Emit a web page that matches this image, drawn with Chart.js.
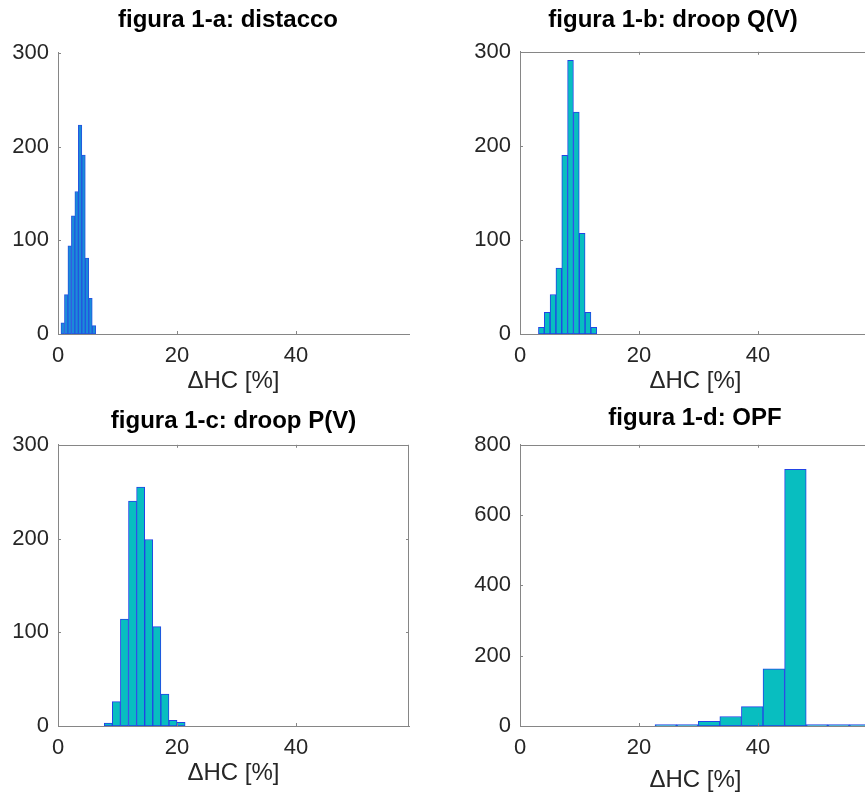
<!DOCTYPE html>
<html>
<head>
<meta charset="utf-8">
<script src="https://cdn.jsdelivr.net/npm/chart.js@4/dist/chart.umd.min.js"></script>
<style>
html,body{margin:0;padding:0;background:#fff;width:865px;height:796px;overflow:hidden;position:relative}
canvas{position:absolute}
</style>
</head>
<body>
<canvas id="ca" width="456" height="396" style="left:0;top:0"></canvas>
<canvas id="cb" width="486" height="396" style="left:430px;top:0"></canvas>
<canvas id="cc" width="467" height="393" style="left:0;top:395px"></canvas>
<canvas id="cd" width="530" height="400" style="left:430px;top:395px"></canvas>
<script>
// ---- data ----
const xTickValues = [0, 20, 40];
const axisTitle = 'ΔHC [%]';

const titleA = 'figura 1-a: distacco';
const binsA = [0.792, 1.376, 1.960, 2.544, 3.128, 3.712, 4.296, 4.880, 5.464, 6.048];
const countsA = [12, 42, 94, 126, 152, 223, 191, 81, 38, 9];

const titleB = 'figura 1-b: droop Q(V)';
const binsB = [3.59, 4.57, 5.55, 6.53, 7.51, 8.49, 9.47, 10.45, 11.43, 12.41];
const countsB = [7, 23, 42, 70, 190, 291, 236, 107, 23, 7];

const titleC = 'figura 1-c: droop P(V)';
const binsC = [8.45, 9.81, 11.17, 12.53, 13.89, 15.25, 16.61, 17.97, 19.33, 20.69];
const countsC = [3, 26, 114, 240, 255, 199, 106, 34, 6, 4];

const titleD = 'figura 1-d: OPF';
const binsD = [24.515, 28.145, 31.775, 35.405, 39.035, 42.665, 46.295, 49.925, 53.555, 57.185];
const countsD = [4, 2, 13, 27, 55, 163, 730, 0, 2, 2];

// ---- styling ----
const FONT = "'Liberation Sans', Arial, Helvetica, sans-serif";
const TXT = '#262626';
const AX = '#868686';

const framePlugin = {
  id: 'frame',
  afterDraw(chart, args, opts) {
    const {ctx, chartArea: a} = chart;
    const x = chart.scales.x, y = chart.scales.y;
    const L = opts.tickLen || 3;
    ctx.save();
    ctx.strokeStyle = AX;
    ctx.lineWidth = 1;
    ctx.beginPath();
    if (opts.box) {
      ctx.moveTo(a.left, Math.round(a.top) + 0.5);
      ctx.lineTo(a.right, Math.round(a.top) + 0.5);
      ctx.moveTo(Math.round(a.right) - 0.5, a.top);
      ctx.lineTo(Math.round(a.right) - 0.5, a.bottom);
    }
    x.ticks.forEach(t => {
      const px = Math.round(x.getPixelForValue(t.value)) + 0.5;
      if (t.value <= x.min) return;
      ctx.moveTo(px, a.bottom);
      ctx.lineTo(px, a.bottom - L);
      if (opts.box) { ctx.moveTo(px, a.top); ctx.lineTo(px, a.top + L); }
    });
    y.ticks.forEach(t => {
      const py = Math.round(y.getPixelForValue(t.value)) + 0.5;
      if (t.value <= y.min) return;
      ctx.moveTo(a.left, py);
      ctx.lineTo(a.left + L, py);
      if (opts.box) { ctx.moveTo(a.right, py); ctx.lineTo(a.right - L, py); }
    });
    ctx.stroke();
    ctx.restore();
  }
};

function makeHist(id, cfg) {
  const data = cfg.bins.map((b, i) => ({x: b, y: cfg.counts[i]}));
  return new Chart(document.getElementById(id), {
    type: 'bar',
    data: {
      datasets: [{
        data: data,
        backgroundColor: cfg.face,
        borderColor: cfg.edge,
        borderWidth: 1,
        borderSkipped: false,
        barPercentage: 1,
        categoryPercentage: 1,
        minBarLength: cfg.minBar || 0
      }]
    },
    plugins: [framePlugin],
    options: {
      responsive: false,
      animation: false,
      devicePixelRatio: 1,
      layout: {padding: 0},
      plugins: {
        legend: {display: false},
        tooltip: {enabled: false},
        title: {
          display: true,
          text: cfg.title,
          color: '#000',
          font: {family: FONT, size: 24, weight: 'bold'},
          padding: {top: cfg.tTop, bottom: cfg.tBot}
        },
        frame: {box: cfg.box, tickLen: 3}
      },
      scales: {
        x: {
          type: 'linear',
          offset: false,
          min: 0,
          max: 59,
          grid: {display: false, drawTicks: false, offset: false},
          border: {display: true, color: AX, width: 1},
          afterBuildTicks(s) { s.ticks = xTickValues.map(v => ({value: v})); },
          ticks: {
            padding: 9,
            color: TXT,
            font: {family: FONT, size: 22},
            maxRotation: 0,
            autoSkip: false
          },
          title: {
            display: true,
            text: axisTitle,
            color: TXT,
            font: {family: FONT, size: 24},
            padding: {top: 0, bottom: 0}
          },
          afterFit(s) { s.height = cfg.xh; }
        },
        y: {
          type: 'linear',
          min: 0,
          max: cfg.ymax,
          grid: {display: false, drawTicks: false},
          border: {display: true, color: AX, width: 1},
          ticks: {
            stepSize: cfg.ystep,
            padding: 9,
            color: TXT,
            font: {family: FONT, size: 22}
          },
          afterFit(s) { s.width = cfg.yw; }
        },
        yR: {
          type: 'linear',
          position: 'right',
          display: true,
          grid: {display: false, drawTicks: false},
          border: {display: false},
          ticks: {display: false},
          afterFit(s) { s.width = cfg.rw; }
        }
      }
    }
  });
}

const blueFace = 'rgb(26,140,216)';
const blueEdge = 'rgb(36,84,224)';
const cyanFace = 'rgb(8,190,192)';
const cyanEdge = 'rgb(34,68,230)';

makeHist('ca', {title: titleA, bins: binsA, counts: countsA, face: blueFace, edge: blueEdge,
  ymax: 300, ystep: 100, box: false, tTop: 6, tBot: 18, xh: 62, yw: 58, rw: 47});
makeHist('cb', {title: titleB, bins: binsB, counts: countsB, face: cyanFace, edge: cyanEdge,
  ymax: 300, ystep: 100, box: true, tTop: 6, tBot: 17, xh: 62, yw: 90, rw: 45});
makeHist('cc', {title: titleC, bins: binsC, counts: countsC, face: cyanFace, edge: cyanEdge,
  ymax: 300, ystep: 100, box: true, tTop: 12, tBot: 9, xh: 62, yw: 58, rw: 58});
makeHist('cd', {title: titleD, bins: binsD, counts: countsD, face: cyanFace, edge: cyanEdge,
  ymax: 800, ystep: 200, box: true, tTop: 9, tBot: 12, xh: 69, yw: 90, rw: 89, minBar: 1.5});
</script>
</body>
</html>
